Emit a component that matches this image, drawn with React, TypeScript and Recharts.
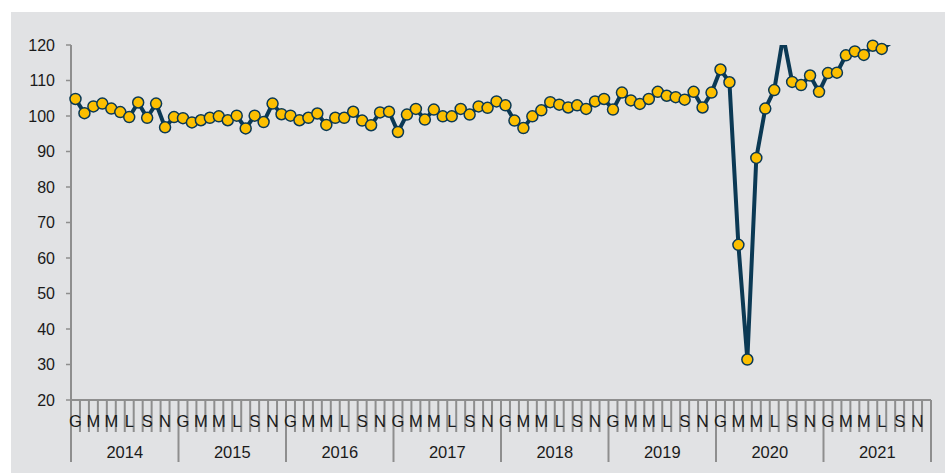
import React from "react";
import { LineChart, Line, XAxis, YAxis } from "recharts";

// Italian month initials, years and the monthly index (Jan 2014 - Aug 2021)
const monthLetters = ["G", "F", "M", "A", "M", "G", "L", "A", "S", "O", "N", "D"];
const years = [2014, 2015, 2016, 2017, 2018, 2019, 2020, 2021];
const yTicks = [20, 30, 40, 50, 60, 70, 80, 90, 100, 110, 120];

const values2014 = [104.8, 100.8, 102.7, 103.5, 102.1, 101.1, 99.7, 103.8, 99.5, 103.5, 96.8, 99.7];
const values2015 = [99.4, 98.2, 98.8, 99.5, 99.9, 98.8, 100.1, 96.5, 100.1, 98.3, 103.5, 100.5];
const values2016 = [100.1, 98.8, 99.5, 100.7, 97.5, 99.5, 99.5, 101.2, 98.7, 97.4, 101.0, 101.2];
const values2017 = [95.5, 100.4, 102.0, 99.0, 101.8, 99.9, 99.9, 102.0, 100.4, 102.7, 102.3, 104.1];
const values2018 = [103.0, 98.7, 96.6, 99.9, 101.6, 103.9, 103.2, 102.4, 103.0, 102.0, 104.1, 104.8];
const values2019 = [101.8, 106.6, 104.4, 103.4, 104.8, 106.8, 105.7, 105.3, 104.6, 106.8, 102.4, 106.6];
const values2020 = [113.1, 109.5, 63.7, 31.4, 88.2, 102.1, 107.3, 122.5, 109.6, 108.7, 111.4, 106.8];
const values2021 = [112.1, 112.2, 117.1, 118.2, 117.2, 119.8, 118.9, 120.6];

const Y_MAX = 120;
const monthCount = years.length * 12;

const allValues = [
    ...values2014, ...values2015, ...values2016, ...values2017,
    ...values2018, ...values2019, ...values2020, ...values2021,
];

// x is the middle of each month slot, so boundaries fall on whole numbers
const chartData = allValues.map((v, i) => ({
    x: i + 0.5,
    value: v,
    marker: v <= Y_MAX ? v : null,
}));

// boundary ticks first (separator lines), then month centres (letters on top)
const xTicks: number[] = [];
for (let i = 0; i <= monthCount; i++) xTicks.push(i);
for (let i = 0; i < monthCount; i++) xTicks.push(i + 0.5);

const FONT = "'Liberation Sans', Arial, sans-serif";
const AXIS_GREY = "#8e8e8e";
const NAVY = "#0b3954";
const GOLD = "#fcbf00";

const MonthTick = (props: any) => {
    const { x, y, payload } = props;
    const v: number = payload.value;
    if (Number.isInteger(v)) {
        const yearEdge = v % 12 === 0;
        return (
            <g>
                <line x1={x} x2={x} y1={y} y2={y + (yearEdge ? 62 : 32)} stroke={AXIS_GREY} strokeWidth={2} />
                {v % 12 === 6 && (
                    <text x={x} y={y + 58} textAnchor="middle" fontSize={16.5} fontFamily={FONT} fill="#1a1a1a">
                        {years[(v - 6) / 12]}
                    </text>
                )}
            </g>
        );
    }
    const m = Math.floor(v);
    if (m % 2 !== 0) return <g />;
    return (
        <text x={x} y={y + 26.5} textAnchor="middle" fontSize={16.5} fontFamily={FONT} fill="#1a1a1a">
            {monthLetters[m % 12]}
        </text>
    );
};

export default function App() {
    return (
        <div style={{ position: "absolute", left: 0, top: 0, width: 945, height: 473, background: "#ffffff" }}>
            <div style={{ position: "absolute", left: 11, top: 12, width: 934, height: 461, background: "#e1e2e4" }}>
                <LineChart width={934} height={461} data={chartData} margin={{ top: 33, right: 14, left: 0, bottom: 0 }}>
                    <XAxis
                        type="number"
                        dataKey="x"
                        domain={[0, monthCount]}
                        ticks={xTicks}
                        interval={0}
                        height={73}
                        tickSize={0}
                        tickMargin={0}
                        tickLine={false}
                        axisLine={{ stroke: AXIS_GREY, strokeWidth: 2 }}
                        tick={<MonthTick />}
                    />
                    <YAxis
                        type="number"
                        domain={[20, Y_MAX]}
                        allowDataOverflow
                        ticks={yTicks}
                        interval={0}
                        width={60}
                        tickSize={5}
                        tickMargin={11}
                        axisLine={{ stroke: AXIS_GREY, strokeWidth: 2 }}
                        tickLine={{ stroke: AXIS_GREY, strokeWidth: 1.5 }}
                        tick={{ fill: "#1a1a1a", fontSize: 16, fontFamily: FONT }}
                    />
                    <Line
                        type="linear"
                        dataKey="value"
                        stroke={NAVY}
                        strokeWidth={4}
                        dot={false}
                        activeDot={false}
                        isAnimationActive={false}
                    />
                    <Line
                        type="linear"
                        dataKey="marker"
                        stroke="none"
                        dot={{ r: 5.5, fill: GOLD, stroke: NAVY, strokeWidth: 1.5, clipDot: false }}
                        activeDot={false}
                        isAnimationActive={false}
                    />
                </LineChart>
            </div>
        </div>
    );
}
